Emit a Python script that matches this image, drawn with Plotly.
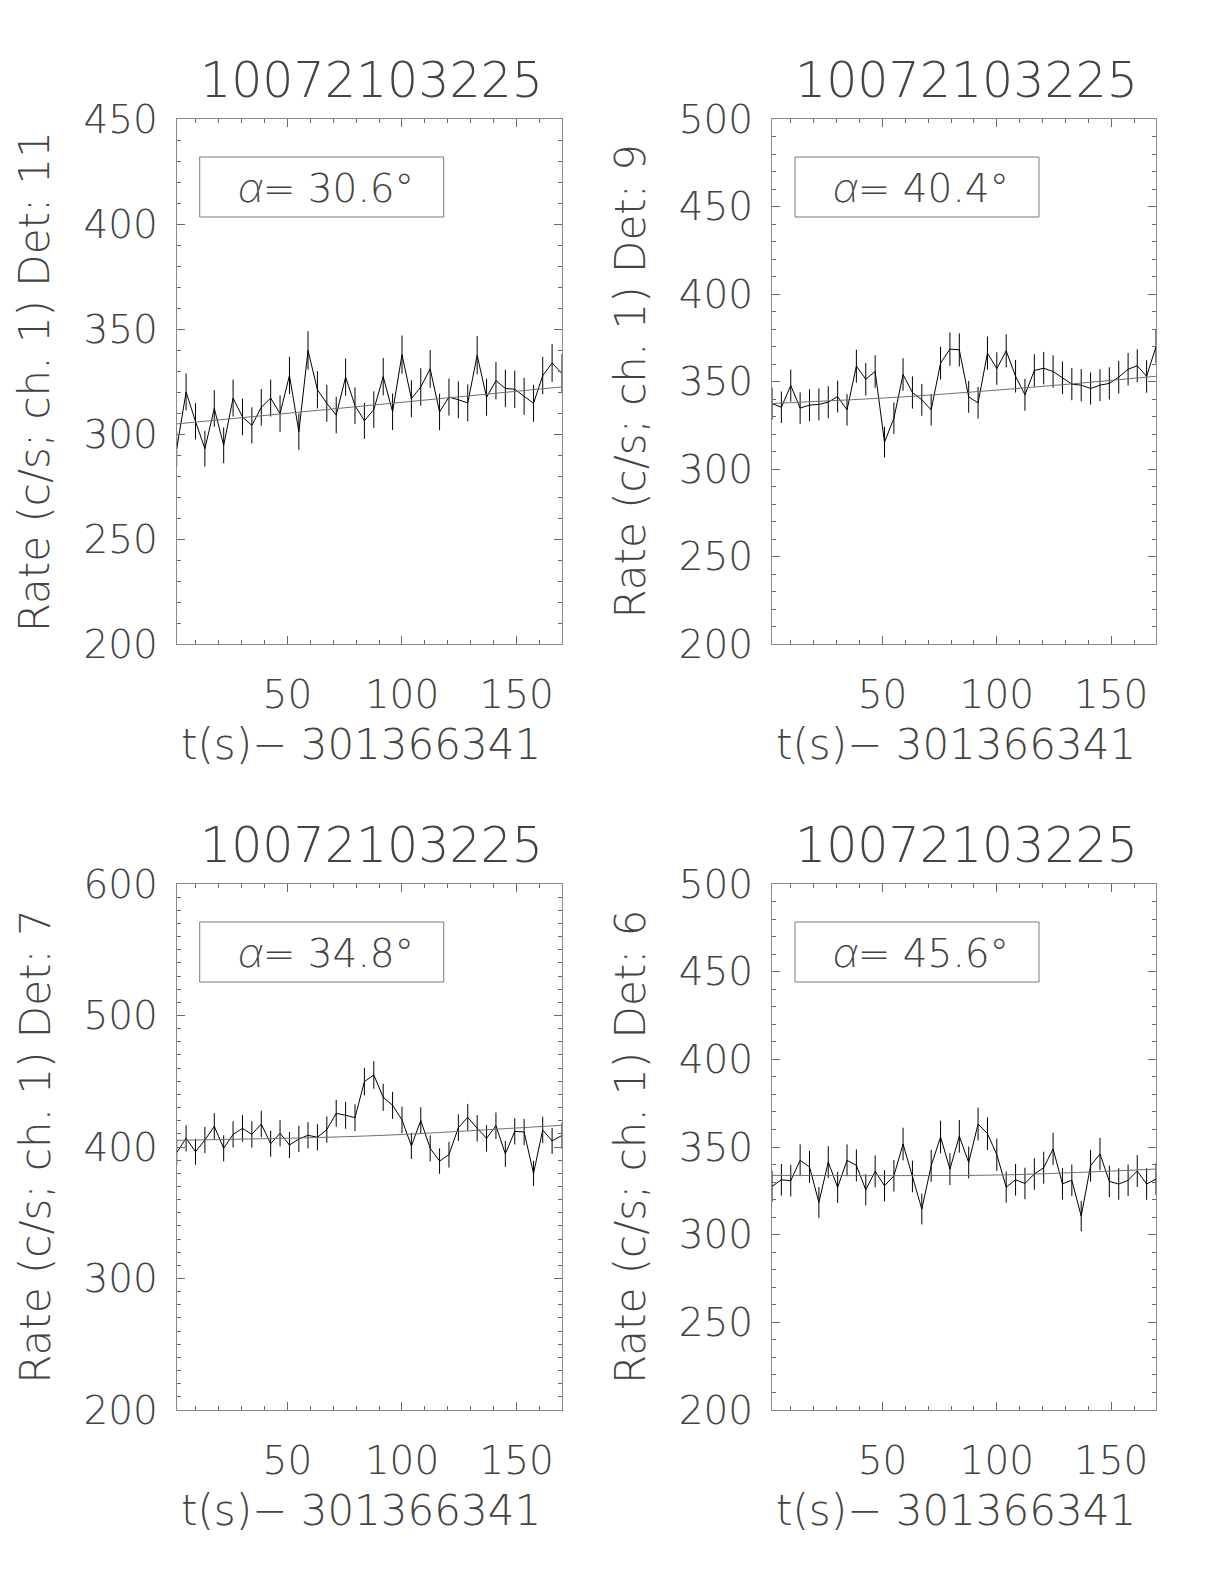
import plotly.graph_objects as go

# ---------------- data ----------------
t = [1.7, 5.8, 9.9, 14.0, 18.1, 22.2, 26.3, 30.4, 34.5, 38.6, 42.7, 46.8, 50.9, 55.0,
     59.0, 63.1, 67.2, 71.3, 75.4, 79.5, 83.6, 87.7, 91.8, 95.9, 100.0, 104.1, 108.2,
     112.3, 116.4, 120.5, 124.6, 128.7, 132.8, 136.9, 141.0, 145.1, 149.2, 153.3,
     157.4, 161.4, 165.5, 169.6]

rate_det11 = [292.9, 320.0, 306.0, 293.0, 312.2, 294.6, 317.1, 308.1, 304.1, 312.7, 317.1,
              309.7, 327.9, 301.1, 339.8, 321.1, 314.6, 309.0, 327.1, 313.5, 306.3, 311.6,
              327.3, 310.6, 337.8, 316.8, 322.4, 331.0, 310.5, 317.6, 316.3, 314.8, 337.5,
              317.5, 325.4, 321.7, 321.3, 317.9, 314.6, 327.8, 333.8, 329.0]
err_det11 = [8.5, 8.8, 8.6, 8.5, 8.7, 8.5, 8.8, 8.7, 8.6, 8.7, 8.8, 8.7, 8.9, 8.6, 9.1, 8.9,
             8.8, 8.7, 8.9, 8.7, 8.6, 8.7, 8.9, 8.7, 9.1, 8.8, 8.9, 9.0, 8.7, 8.8, 8.8, 8.8,
             9.1, 8.8, 8.9, 8.9, 8.9, 8.8, 8.8, 8.9, 9.0, 9.0]
bkg_t_det11 = [1.7, 169.6]
bkg_det11 = [304.8, 322.4]

rate_det9 = [337.4, 335.3, 347.7, 334.8, 336.5, 336.9, 338.2, 341.4, 333.8, 358.8, 351.3,
             355.7, 315.3, 329.0, 354.0, 343.7, 339.5, 333.8, 360.5, 368.5, 368.1, 341.2,
             337.8, 366.2, 357.4, 367.5, 353.0, 342.4, 356.3, 357.6, 355.7, 352.1, 348.5,
             347.9, 346.0, 347.9, 348.9, 352.5, 357.0, 359.0, 352.9, 370.0]
err_det9 = [9.1, 9.0, 9.2, 9.0, 9.1, 9.1, 9.1, 9.1, 9.0, 9.4, 9.3, 9.3, 8.8, 9.0, 9.3, 9.2,
            9.1, 9.0, 9.4, 9.5, 9.5, 9.1, 9.1, 9.5, 9.3, 9.5, 9.3, 9.1, 9.3, 9.3, 9.3, 9.3,
            9.2, 9.2, 9.2, 9.2, 9.2, 9.3, 9.3, 9.4, 9.3, 9.5]
bkg_t_det9 = [1.7, 55.0, 86.0, 128.0, 169.6]
bkg_det9 = [337.4, 340.9, 343.7, 348.1, 353.0]

rate_det7 = [395.7, 406.6, 396.4, 405.3, 415.7, 399.0, 409.6, 414.2, 409.6, 417.5, 402.5,
             410.4, 401.5, 406.1, 408.9, 407.4, 413.2, 425.6, 424.1, 422.3, 449.7, 454.8,
             437.8, 431.7, 420.6, 400.8, 420.1, 399.0, 389.3, 394.2, 414.7, 422.6, 414.2,
             406.6, 416.2, 394.7, 411.9, 411.4, 379.9, 412.9, 404.6, 408.6]
err_det7 = [9.8, 10.0, 9.8, 9.9, 10.1, 9.9, 10.0, 10.1, 10.0, 10.1, 9.9, 10.0, 9.9, 10.0,
            10.0, 10.0, 10.0, 10.2, 10.2, 10.2, 10.5, 10.5, 10.3, 10.3, 10.1, 9.9, 10.1,
            9.9, 9.7, 9.8, 10.1, 10.2, 10.1, 10.0, 10.1, 9.8, 10.0, 10.0, 9.6, 10.0, 9.9,
            10.0]
bkg_t_det7 = [1.7, 67.2, 101.0, 130.0, 169.6]
bkg_det7 = [405.1, 407.4, 409.6, 412.4, 416.5]

rate_det6 = [327.5, 331.3, 330.8, 342.4, 338.6, 318.4, 341.4, 327.0, 342.4, 339.5, 325.6,
             336.1, 327.9, 333.6, 351.7, 333.2, 314.6, 339.3, 355.7, 337.4, 356.1, 341.2,
             363.1, 357.6, 345.6, 327.1, 331.3, 329.2, 334.6, 338.2, 348.9, 329.0, 331.0,
             310.6, 339.3, 346.0, 330.4, 328.9, 331.0, 336.3, 328.9, 331.7]
err_det6 = [8.9, 9.0, 9.0, 9.1, 9.1, 8.8, 9.1, 8.9, 9.1, 9.1, 8.9, 9.1, 8.9, 9.0, 9.3, 9.0,
            8.8, 9.1, 9.3, 9.1, 9.3, 9.1, 9.4, 9.3, 9.2, 8.9, 9.0, 9.0, 9.0, 9.1, 9.2, 9.0,
            9.0, 8.7, 9.1, 9.2, 9.0, 9.0, 9.0, 9.1, 9.0, 9.0]
bkg_t_det6 = [1.7, 60.0, 100.0, 128.0, 169.6]
bkg_det6 = [333.8, 333.7, 334.0, 335.1, 337.4]

burst_id = "10072103225"
detectors = ["11", "9", "7", "6"]
alphas = ["30.6", "40.4", "34.8", "45.6"]
y_ranges = [[200, 450], [200, 500], [200, 600], [200, 500]]
y_major = [50, 50, 100, 50]
x_ticks = [50, 100, 150]
x_minor = [10, 20, 30, 40, 60, 70, 80, 90, 110, 120, 130, 140, 160]
t_offset = "301366341"

rates = [rate_det11, rate_det9, rate_det7, rate_det6]
errs = [err_det11, err_det9, err_det7, err_det6]
bkg_ts = [bkg_t_det11, bkg_t_det9, bkg_t_det7, bkg_t_det6]
bkgs = [bkg_det11, bkg_det9, bkg_det7, bkg_det6]

# ---------------- layout geometry (window pixels) ----------------
WIN_W, WIN_H = 1224, 1584
OFF = 8                      # default page body margin
W, H = WIN_W - 2 * OFF, WIN_H - 2 * OFF


def px(X):
    return (X - OFF) / W


def py(Y):
    return 1 - (Y - OFF) / H


col_x = [(176.7, 561.5), (772.0, 1156.0)]
row_y = [(119.0, 644.0), (884.0, 1410.0)]

FONT = "DejaVu Sans"
TXT = "#444444"
FS = 39
WT = 200
ALPHA = ('<span style="font-family:Inter;font-style:italic;font-weight:200">'
         '\u03b1</span>')

fig = go.Figure()
annotations = []
shapes = []
layout = {}

for k in range(4):
    r, c = divmod(k, 2)
    n = "" if k == 0 else str(k + 1)
    xa, ya = "x" + n, "y" + n
    x0, x1 = col_x[c]
    y0, y1 = row_y[r]
    xdom = [px(x0), px(x1)]
    ydom = [py(y1), py(y0)]

    fig.add_trace(go.Scatter(
        x=t, y=rates[k], mode="lines", xaxis=xa, yaxis=ya,
        line=dict(color="black", width=1),
        error_y=dict(type="data", array=errs[k], visible=True,
                     color="black", thickness=1, width=0),
        showlegend=False, hoverinfo="skip"))
    fig.add_trace(go.Scatter(
        x=bkg_ts[k], y=bkgs[k], mode="lines", xaxis=xa, yaxis=ya,
        line=dict(color="#6e6e6e", width=1, shape="spline"),
        showlegend=False, hoverinfo="skip"))

    common = dict(showgrid=False, zeroline=False, showline=True, linecolor="#8a8a8a",
                  linewidth=1, mirror="ticks", ticks="inside", tickcolor="#6a6a6a",
                  ticklen=8, tickwidth=1, automargin=False,
                  tickfont=dict(family=FONT, size=FS, color=TXT, weight=WT))
    layout["xaxis" + n] = dict(
        common, domain=xdom, anchor=ya, range=[t[0], t[-1]],
        tickmode="array", tickvals=x_ticks, ticklabelstandoff=16,
        minor=dict(tickmode="array", tickvals=x_minor, ticks="inside", ticklen=4,
                   tickcolor="#6a6a6a"))
    layout["yaxis" + n] = dict(
        common, domain=ydom, anchor=xa, range=y_ranges[k],
        tickmode="linear", tick0=y_ranges[k][0], dtick=y_major[k], ticklabelstandoff=10,
        minor=dict(tickmode="linear", dtick=10, ticks="inside", ticklen=4,
                   tickcolor="#6a6a6a"))

    cx = (x0 + x1) / 2
    # panel title
    annotations.append(dict(text=burst_id, x=px(cx + 2), y=py(y0 - 39), xref="paper",
                            yref="paper", xanchor="center", yanchor="middle",
                            showarrow=False,
                            font=dict(family=FONT, size=49, color=TXT, weight=WT)))
    # x title
    annotations.append(dict(text="t(s)\u2212 " + t_offset, x=px(cx - 8),
                            y=py(y1 + 100), xref="paper", yref="paper",
                            xanchor="center", yanchor="middle", showarrow=False,
                            font=dict(family=FONT, size=42, color=TXT, weight=WT)))
    # y title
    annotations.append(dict(text="Rate (c/s; ch. 1) Det: " + detectors[k],
                            x=px(x0 - 142), y=py((y0 + y1) / 2),
                            xref="paper", yref="paper", textangle=-90,
                            xanchor="center", yanchor="middle", showarrow=False,
                            font=dict(family=FONT, size=42, color=TXT, weight=WT)))
    # alpha box
    bx0, bx1 = x0 + 23, x0 + 267
    by0, by1 = y0 + 38, y0 + 98
    shapes.append(dict(type="rect", xref="paper", yref="paper",
                       x0=px(bx0), x1=px(bx1), y0=py(by1), y1=py(by0),
                       line=dict(color="#7a7a7a", width=1)))
    annotations.append(dict(text=ALPHA + "= " + alphas[k] + "\u00b0",
                            x=px((bx0 + bx1) / 2 + 4), y=py((by0 + by1) / 2),
                            xref="paper", yref="paper", xanchor="center", yanchor="middle",
                            showarrow=False,
                            font=dict(family=FONT, size=FS, color=TXT, weight=WT)))

fig.update_layout(width=W, height=H, margin=dict(l=0, r=0, t=0, b=0),
                  paper_bgcolor="white", plot_bgcolor="white",
                  annotations=annotations, shapes=shapes, **layout)

fig.write_html("out.html")
